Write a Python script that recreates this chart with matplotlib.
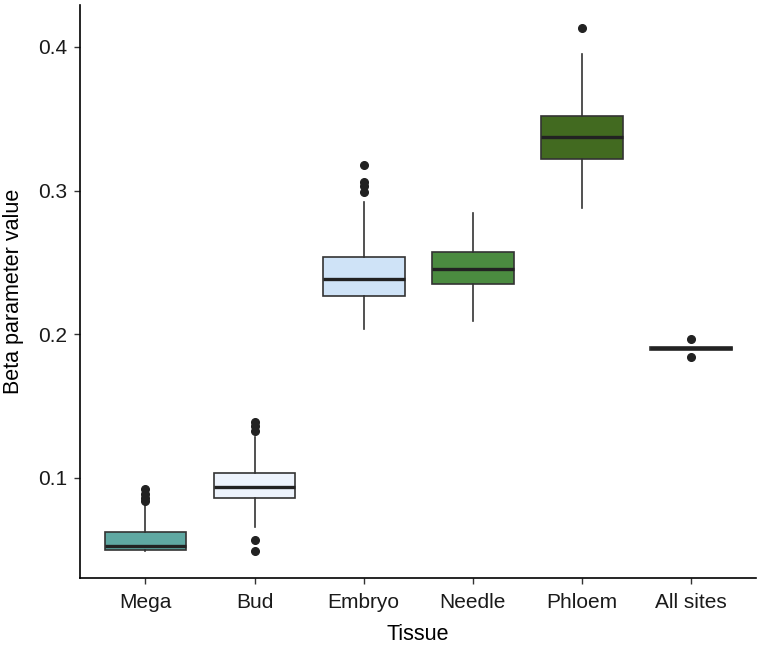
import matplotlib
matplotlib.use("Agg")
import matplotlib.pyplot as plt

plt.rcParams['font.family'] = ['Liberation Sans', 'DejaVu Sans']

tissues = ["Mega", "Bud", "Embryo", "Needle", "Phloem", "All sites"]
whisker_low = [0.0495, 0.0662, 0.2038, 0.2089, 0.2877, 0.1892]
q1 = [0.0498, 0.0859, 0.2267, 0.2351, 0.3221, 0.1892]
median = [0.0527, 0.0936, 0.2383, 0.2455, 0.3372, 0.1903]
q3 = [0.0625, 0.1038, 0.2536, 0.2576, 0.3520, 0.1914]
whisker_high = [0.0813, 0.1284, 0.2919, 0.2847, 0.3949, 0.1914]
outliers = [
    [0.0925, 0.0890, 0.0860, 0.0840],
    [0.1390, 0.1360, 0.1330, 0.0569, 0.0495],
    [0.3179, 0.3063, 0.3030, 0.2993],
    [],
    [0.4130],
    [0.1966, 0.1845],
]
colors = ["#5fa8a2", "#edf3fc", "#cfe3f7", "#4b8b40", "#426a20"]
colors.append("#333333")

stats = []
for i, name in enumerate(tissues):
    stats.append(dict(label=name, whislo=whisker_low[i], q1=q1[i], med=median[i],
                      q3=q3[i], whishi=whisker_high[i], fliers=outliers[i]))

fig = plt.figure(figsize=(7.58, 6.52), dpi=100)
ax = fig.add_axes([0.1055, 0.1135, 0.8925, 0.8785])

line_c = "#333333"
bp = ax.bxp(stats, positions=range(1, 7), widths=0.75, patch_artist=True,
            showcaps=False,
            boxprops=dict(edgecolor=line_c, linewidth=1.2),
            whiskerprops=dict(color=line_c, linewidth=1.2),
            medianprops=dict(color="#222222", linewidth=2.4, solid_capstyle='butt'),
            flierprops=dict(marker='o', markerfacecolor="#222222", markeredgecolor="#222222",
                            markersize=5.5, linestyle='none'))
for patch, c in zip(bp['boxes'], colors):
    patch.set_facecolor(c)

ax.set_xlim(0.4, 6.6)
ax.set_ylim(0.0304, 0.429)
ax.set_yticks([0.1, 0.2, 0.3, 0.4])
ax.set_yticklabels(["0.1", "0.2", "0.3", "0.4"])
ax.set_xticks(range(1, 7))
ax.set_xticklabels(tissues)

for s in ["top", "right"]:
    ax.spines[s].set_visible(False)
for s in ["left", "bottom"]:
    ax.spines[s].set_color("black")
    ax.spines[s].set_linewidth(1.2)
ax.tick_params(axis='both', length=4, width=1.0, color="#333333",
               labelsize=15, labelcolor="#1a1a1a", pad=5)
ax.tick_params(axis='x', pad=7)

ax.set_xlabel("Tissue", fontsize=15.5, color="black", labelpad=8.5)
ax.set_ylabel("Beta parameter value", fontsize=15.5, color="black", labelpad=10)

fig.savefig("out.png", dpi=100)
